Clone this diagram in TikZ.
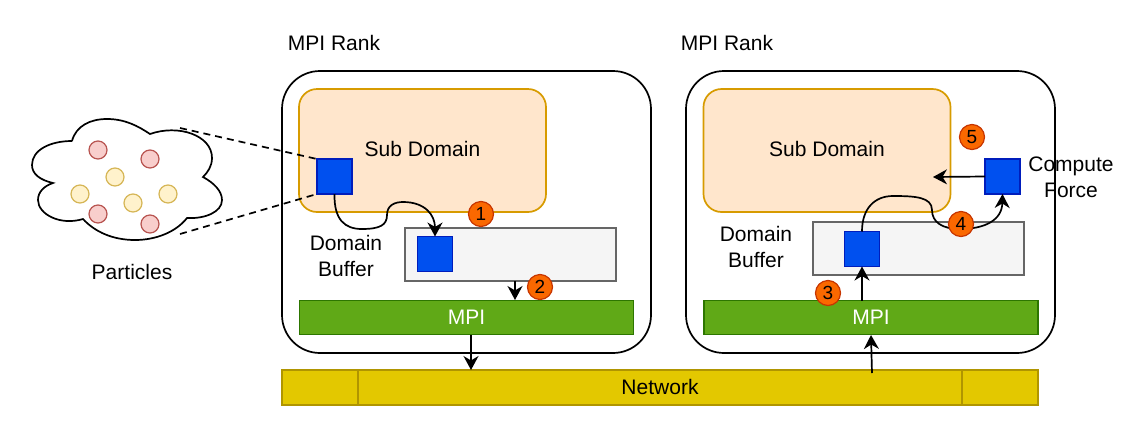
\documentclass[tikz,border=0pt]{standalone}
\usepackage{fontspec}
\setmainfont{Liberation Sans}
\usetikzlibrary{arrows.meta}
\definecolor{subfill}{HTML}{FFE6CC}
\definecolor{subline}{HTML}{D79B00}
\definecolor{bluefill}{HTML}{0050EF}
\definecolor{blueline}{HTML}{001DBC}
\definecolor{mpifill}{HTML}{60A917}
\definecolor{mpiline}{HTML}{2D7600}
\definecolor{netfill}{HTML}{E3C800}
\definecolor{netline}{HTML}{B09500}
\definecolor{buffill}{HTML}{F5F5F5}
\definecolor{bufline}{HTML}{666666}
\definecolor{redfill}{HTML}{F8CECC}
\definecolor{redline}{HTML}{B85450}
\definecolor{yelfill}{HTML}{FFF2CC}
\definecolor{yelline}{HTML}{D6B656}
\definecolor{markfill}{HTML}{FA6800}
\definecolor{markline}{HTML}{C73500}
\tikzset{
    every node/.style={font=\fontsize{21}{26}\selectfont, align=center, inner sep=0pt, outer sep=0pt},
    flow/.style={line width=1.7pt, -{Stealth[length=14pt, width=15pt, inset=4.5pt]}},
    rank/.style={draw, line width=1.7pt, rounded corners=38pt, minimum width=369pt, minimum height=282pt},
    subdomain/.style={draw=subline, fill=subfill, line width=1.7pt, rounded corners=18pt, text depth=3pt, minimum width=247pt, minimum height=123pt},
    buffer/.style={draw=bufline, fill=buffill, line width=1.7pt, minimum width=211pt, minimum height=53pt},
    particle/.style={draw=blueline, fill=bluefill, line width=1.2pt, minimum width=35pt, minimum height=35pt},
    mpi/.style={draw=mpiline, fill=mpifill, line width=1.7pt, text=white, minimum width=334pt, minimum height=34pt},
    network/.style={draw=netline, fill=netfill, line width=1.7pt, text depth=2pt, minimum width=756pt, minimum height=35pt},
    marker/.style={circle, draw=markline, fill=markfill, line width=1.2pt, minimum size=25pt, font=\fontsize{19}{22}\selectfont},
}

\begin{document}
\begin{tikzpicture}[x=1pt, y=-1pt]
    \useasboundingbox (0, 0) rectangle (1144, 424);

    % the two ranks
    \node[rank] (rankA) at (466.5, 212) {};
    \node[rank] (rankB) at (870.5, 212) {};
    \node (rankAlabel) at (334, 43) {MPI Rank};
    \node (rankBlabel) at (727, 43) {MPI Rank};

    \node[subdomain] (subA) at (422.5, 150.5) {Sub Domain};
    \node[subdomain] (subB) at (827, 150.5) {Sub Domain};
    \node[buffer] (bufA) at (510.5, 254.5) {};
    \node[buffer] (bufB) at (918.5, 248.5) {};
    \node[mpi] (mpiA) at (466.5, 317.5) {MPI};
    \node[mpi] (mpiB) at (871, 317.5) {MPI};

    \node[network] (net) at (660, 387.5) {Network};
    \draw[netline, line width=1.5pt] (358, 370) -- (358, 405);
    \draw[netline, line width=1.5pt] (962, 370) -- (962, 405);

    % particles cloud
    \draw[line width=1.7pt, fill=white]
        (72, 141) .. controls (76, 126) and (90, 119) .. (107, 119)
        .. controls (125, 119) and (138, 126) .. (150, 134)
        .. controls (178, 124) and (212, 135) .. (212, 158)
        .. controls (212, 166) and (208, 172) .. (203, 177)
        .. controls (214, 183) and (222, 191) .. (222, 200)
        .. controls (222, 212) and (205, 219) .. (187, 218)
        .. controls (176, 232) and (156, 240) .. (135, 240)
        .. controls (113, 240) and (95, 232) .. (83, 219)
        .. controls (60, 226) and (38, 214) .. (38, 200)
        .. controls (38, 192) and (44, 186) .. (53, 183)
        .. controls (40, 180) and (32, 174) .. (32, 165)
        .. controls (32, 150) and (50, 141) .. (72, 141);
    \foreach \x/\y in {98/150, 150/159, 98/214, 150/224}
        \filldraw[draw=redline, fill=redfill, line width=1.2pt] (\x, \y) circle (9pt);
    \foreach \x/\y in {115/177, 80/194, 133/203, 168/194}
        \filldraw[draw=yelline, fill=yelfill, line width=1.2pt] (\x, \y) circle (9pt);
    \node (particles) at (132, 272) {Particles};

    \node[particle] (boxA) at (334.5, 176.5) {};
    \node[particle] (boxB) at (435, 254) {};
    \node[particle] (boxC) at (862, 249) {};
    \node[particle] (boxD) at (1002.5, 176.5) {};

    \coordinate (cloudtop) at (180, 128);
    \coordinate (cloudbot) at (180, 234);
    \draw[line width=1.7pt, dash pattern=on 7pt off 5pt] (cloudtop) -- (boxA.north west);
    \draw[line width=1.7pt, dash pattern=on 7pt off 5pt] (cloudbot) -- (boxA.south west);

    \node (bufAlabel) at (346, 256) {Domain\\Buffer};
    \node (bufBlabel) at (756, 247) {Domain\\Buffer};
    \node (force) at (1071, 177) {Compute\\Force};

    % data path
    \draw[flow] (boxA.south) .. controls (334, 220) and (345, 229) .. (362, 229)
        .. controls (380, 229) and (387, 225) .. (387, 215)
        .. controls (387, 205) and (395, 202) .. (403, 202)
        .. controls (425, 202) and (435, 215) .. (boxB.north);
    \draw[flow] (515, 281) -- (515, 300);
    \draw[flow] (471, 335) -- (471, 370);
    \draw[flow] (872, 373) -- (871, 335);
    \draw[flow] (boxC |- mpiB.north) -- (boxC.south);
    \draw[flow] (boxC.north) .. controls (862, 208) and (875, 196) .. (893, 196)
        .. controls (915, 196) and (932, 197) .. (932, 210)
        .. controls (932, 222) and (942, 229) .. (960, 229)
        .. controls (985, 229) and (1002, 220) .. (boxD.south);
    \coordinate (forceend) at (933, 177);
    \draw[flow] (boxD.west) -- (forceend);

    \node[marker] (stepA) at (481, 214) {1};
    \node[marker] (stepB) at (540, 287) {2};
    \node[marker] (stepC) at (828, 293) {3};
    \node[marker] (stepD) at (961, 224) {4};
    \node[marker] (stepE) at (972, 137) {5};
\end{tikzpicture}
\end{document}
